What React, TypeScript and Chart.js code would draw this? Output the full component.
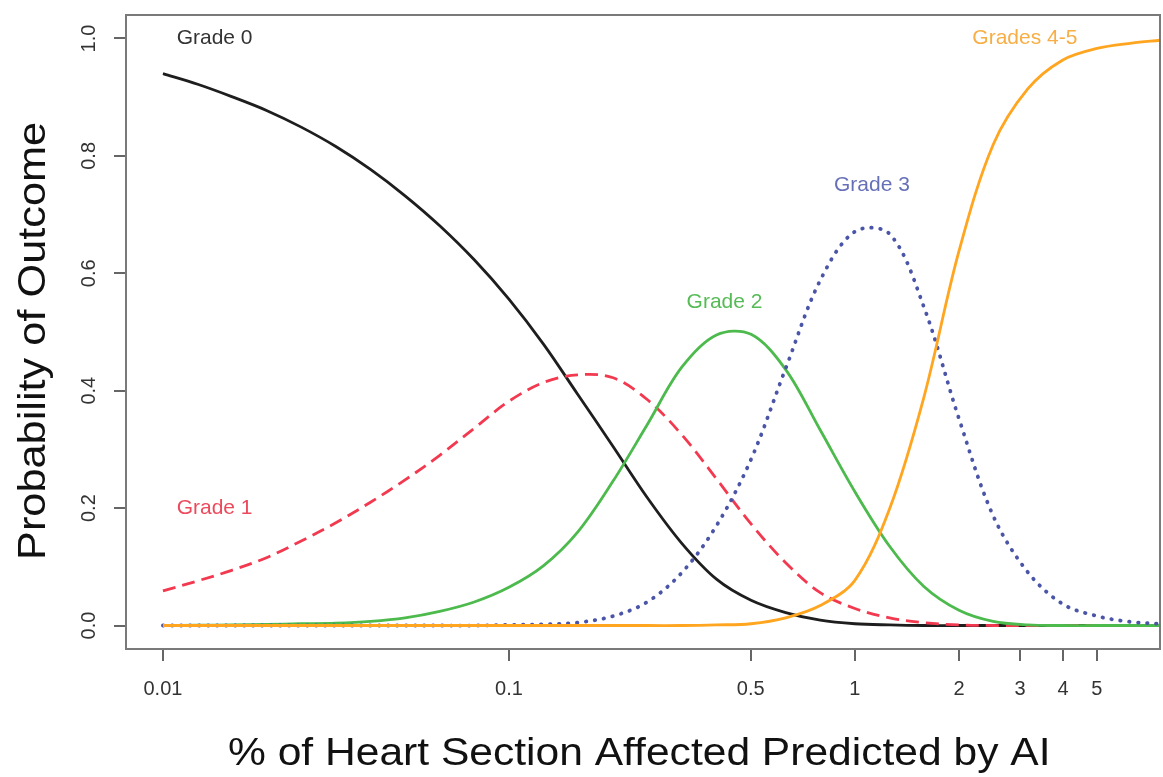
import React, { useEffect, useRef } from "react";
import { Chart, registerables } from "chart.js";

Chart.register(...registerables);

// ---- data (at x positions 0.1 decade apart) ----
const xValues = [0.01, 0.0126, 0.0158, 0.02, 0.0251, 0.0316, 0.0398, 0.0501, 0.0631, 0.0794, 0.1, 0.126, 0.158, 0.2, 0.251, 0.316, 0.398, 0.501, 0.631, 0.794, 1, 1.26, 1.58, 2, 2.51, 3.16, 3.98, 5.01, 6.31, 7.62];

const grade0 = [0.94, 0.922, 0.901, 0.877, 0.849, 0.816, 0.777, 0.732, 0.681, 0.623, 0.556, 0.479, 0.394, 0.305, 0.218, 0.14, 0.079, 0.043, 0.022, 0.009, 0.003, 0.001, 0, 0, 0, 0, 0, 0, 0, 0];
const grade1 = [0.059, 0.076, 0.094, 0.116, 0.144, 0.175, 0.21, 0.248, 0.29, 0.336, 0.382, 0.414, 0.427, 0.422, 0.385, 0.325, 0.25, 0.173, 0.107, 0.056, 0.029, 0.013, 0.005, 0.001, 0, 0, 0, 0, 0, 0];
const grade2 = [0, 0.0005, 0.001, 0.002, 0.003, 0.004, 0.007, 0.013, 0.024, 0.04, 0.065, 0.102, 0.159, 0.246, 0.342, 0.44, 0.495, 0.496, 0.436, 0.333, 0.228, 0.135, 0.067, 0.026, 0.007, 0.001, 0, 0, 0, 0];
const grade3 = [0, 0, 0, 0, 0, 0, 0, 0, 0, 0, 0.001, 0.002, 0.005, 0.016, 0.04, 0.09, 0.17, 0.283, 0.438, 0.588, 0.671, 0.667, 0.544, 0.352, 0.187, 0.091, 0.037, 0.016, 0.006, 0.003];
const grade45 = [0, 0, 0, 0, 0, 0, 0, 0, 0, 0, 0, 0, 0, 0, 0, 0, 0.001, 0.003, 0.013, 0.034, 0.077, 0.199, 0.387, 0.638, 0.819, 0.914, 0.963, 0.983, 0.992, 0.997];

const seriesNames = ["Grade 0", "Grade 1", "Grade 2", "Grade 3", "Grades 4-5"];

const xTickValues = [0.01, 0.1, 0.5, 1, 2, 3, 4, 5];
const xTickLabels = ["0.01", "0.1", "0.5", "1", "2", "3", "4", "5"];
const yTickValues = [0, 0.2, 0.4, 0.6, 0.8, 1.0];
const yTickLabels = ["0.0", "0.2", "0.4", "0.6", "0.8", "1.0"];

const labelX = [0.0141, 0.0141, 0.42, 1.12, 3.1];
const labelY = [1.0, 0.2, 0.55, 0.75, 1.0];

const xTitle = "% of Heart Section Affected Predicted by AI";
const yTitle = "Probability of Outcome";

// ---- styles ----
const FONT = '"Liberation Sans", Arial, Helvetica, sans-serif';
const lineColors = ["#1e1e1e", "#f2394f", "#4cba4c", "#4b55a8", "#ffa51f"];
const labelColors = ["#333333", "#ec4a5c", "#55bb55", "#6670b8", "#f7ae45"];

function makeData(values: number[]) {
  return xValues.map((x, i) => ({ x, y: values[i] }));
}

const textPlugin = {
  id: "textAndFrame",
  afterDraw(chart: any) {
    const ctx = chart.ctx as CanvasRenderingContext2D;
    const { left, right, top, bottom } = chart.chartArea;
    const xs = chart.scales.x;
    const ys = chart.scales.y;
    ctx.save();
    // frame
    ctx.strokeStyle = "#7a7a7a";
    ctx.lineWidth = 2;
    ctx.strokeRect(left, top, right - left, bottom - top);

    // y tick labels (rotated, R style)
    ctx.fillStyle = "#333333";
    ctx.font = `20px ${FONT}`;
    ctx.textAlign = "center";
    ctx.textBaseline = "alphabetic";
    yTickValues.forEach((v, i) => {
      const py = ys.getPixelForValue(v);
      ctx.save();
      ctx.translate(left - 31, py);
      ctx.rotate(-Math.PI / 2);
      ctx.fillText(yTickLabels[i], 0, 0);
      ctx.restore();
    });

    // axis titles
    ctx.fillStyle = "#111111";
    ctx.font = `38px ${FONT}`;
    ctx.textAlign = "left";
    ctx.textBaseline = "alphabetic";
    ctx.save();
    ctx.translate(228, bottom + 116);
    ctx.scale(1.12, 1);
    ctx.fillText(xTitle, 0, 0);
    ctx.restore();

    ctx.save();
    ctx.translate(45, 560);
    ctx.rotate(-Math.PI / 2);
    ctx.scale(1.14, 1);
    ctx.fillText(yTitle, 0, 0);
    ctx.restore();

    // series labels
    ctx.font = `21px ${FONT}`;
    ctx.textAlign = "center";
    ctx.textBaseline = "middle";
    seriesNames.forEach((name, i) => {
      ctx.fillStyle = labelColors[i];
      ctx.fillText(name, xs.getPixelForValue(labelX[i]), ys.getPixelForValue(labelY[i]));
    });
    ctx.restore();
  },
};

export default function App() {
  const canvasRef = useRef<HTMLCanvasElement | null>(null);

  useEffect(() => {
    const canvas = canvasRef.current;
    if (!canvas) return;
    const all = [grade0, grade1, grade2, grade3, grade45];
    const orders = [5, 4, 3, 2, 1];
    const chart = new Chart(canvas, {
      type: "line",
      data: {
        datasets: all.map((vals, i) => ({
          label: seriesNames[i],
          data: makeData(vals),
          borderColor: lineColors[i],
          backgroundColor: lineColors[i],
          borderWidth: i === 3 ? 3.8 : 2.8,
          borderDash: i === 1 ? [13, 7] : i === 3 ? [0.5, 8.5] : [],
          borderCapStyle: i === 3 ? "round" : "butt",
          pointRadius: 0,
          fill: false,
          tension: 0.34,
          order: orders[i],
        })),
      },
      options: {
        responsive: false,
        animation: false,
        devicePixelRatio: 1,
        layout: { padding: { top: 11, right: 3, left: 0, bottom: 0 } },
        plugins: {
          legend: { display: false },
          tooltip: { enabled: false },
        },
        scales: {
          x: {
            type: "logarithmic",
            position: "bottom",
            min: 0.00782,
            max: 7.62,
            afterBuildTicks: (scale: any) => {
              scale.ticks = xTickValues.map((v) => ({ value: v }));
            },
            afterFit: (scale: any) => {
              scale.height = 128;
            },
            border: { display: false },
            grid: {
              drawOnChartArea: false,
              drawTicks: true,
              tickLength: 12,
              color: "#666666",
              lineWidth: 2,
            },
            ticks: {
              autoSkip: false,
              maxRotation: 0,
              minRotation: 0,
              padding: 16,
              color: "#333333",
              font: { size: 20, family: FONT },
              callback: (_v: any, i: number) => xTickLabels[i],
            },
          },
          y: {
            type: "linear",
            min: -0.04,
            max: 1.04,
            afterBuildTicks: (scale: any) => {
              scale.ticks = yTickValues.map((v) => ({ value: v }));
            },
            afterFit: (scale: any) => {
              scale.width = 126;
            },
            border: { display: false },
            grid: {
              drawOnChartArea: false,
              drawTicks: true,
              tickLength: 12,
              color: "#666666",
              lineWidth: 2,
            },
            ticks: {
              color: "rgba(0,0,0,0)",
              font: { size: 20, family: FONT },
              callback: (_v: any, i: number) => yTickLabels[i],
            },
          },
        },
      },
      plugins: [textPlugin],
    } as any);
    return () => chart.destroy();
  }, []);

  return (
    <div style={{ position: "fixed", left: 0, top: 0, width: 1163, height: 777, background: "#ffffff" }}>
      <canvas ref={canvasRef} width={1163} height={777} style={{ display: "block" }} />
    </div>
  );
}
